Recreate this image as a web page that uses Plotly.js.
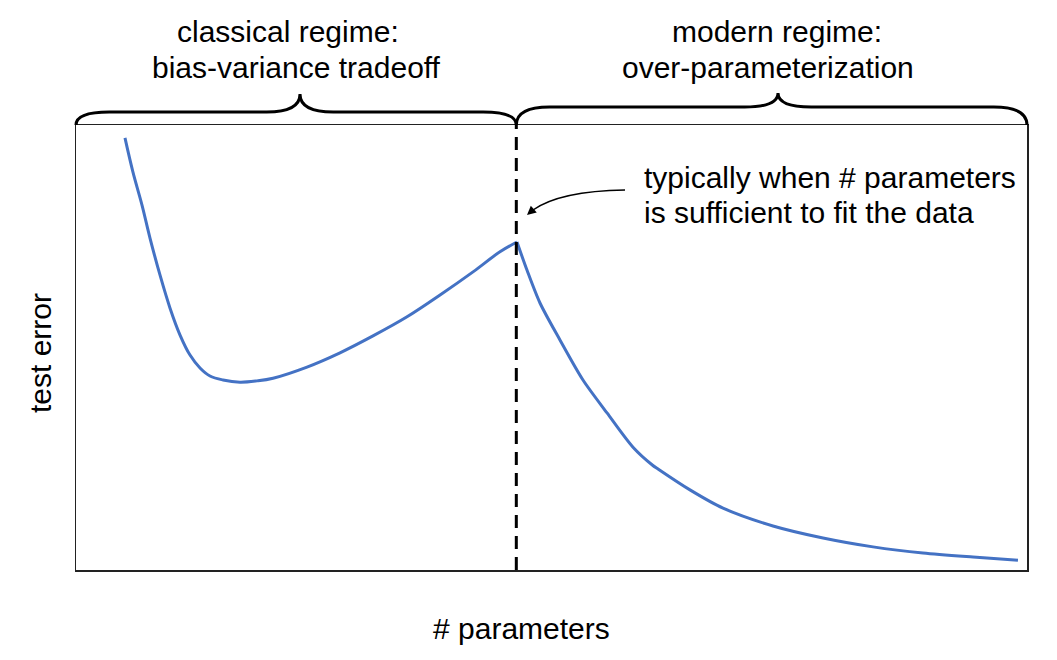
<!DOCTYPE html>
<html>
<head>
<meta charset="utf-8">
<script src="https://cdn.plot.ly/plotly-3.0.1.min.js"></script>
<style>html,body{margin:0;padding:0;background:#fff;}#chart{width:1057px;height:660px;}</style>
</head>
<body>
<div id="chart"></div>
<script>
// Classical regime (under-parameterized): U-shaped test error
const xClassical = [5.15, 5.99, 6.94, 7.78, 8.83, 9.88, 10.94, 11.99, 13.04, 14.09, 15.46, 17.24, 19.04, 20.72, 24.29, 27.76, 31.23, 34.81, 38.28, 41.75, 44.58, 46.37];
const yClassical = [97.1, 89.4, 82.0, 74.6, 66.3, 58.9, 52.8, 48.3, 45.4, 43.6, 42.7, 42.2, 42.5, 43.1, 45.6, 48.8, 52.6, 56.9, 61.8, 67.0, 71.5, 73.7];
// Modern regime (over-parameterized): decreasing test error
const xModern = [46.37, 47.42, 48.79, 50.89, 53.31, 55.84, 58.57, 60.6, 61.2, 64.56, 68.03, 73.29, 78.55, 83.81, 89.06, 94.32, 99.05];
const yModern = [73.7, 67.4, 60.0, 51.7, 42.7, 35.3, 27.6, 23.6, 22.7, 18.0, 13.9, 9.9, 7.2, 5.2, 3.8, 2.9, 2.2];
const threshold = 46.3;   // interpolation threshold
const xRange = [0, 100];
const yRange = [0, 100];

const labels = {
  classicalTop: "classical regime:",
  classicalBottom: "bias-variance tradeoff",
  modernTop: "modern regime:",
  modernBottom: "over-parameterization",
  note1: "typically when # parameters",
  note2: "is sufficient to fit the data",
  xTitle: "# parameters",
  yTitle: "test error"
};

const W = 1057, H = 660;
const M = {l: 76, r: 30, t: 125, b: 90};
const plotW = W - M.l - M.r, plotH = H - M.t - M.b;
// helpers converting page pixels to paper coordinates (layout only)
const px = p => (p - M.l) / plotW;
const py = p => (H - M.b - p) / plotH;

const FONT = "Liberation Sans, Arial, Helvetica, sans-serif";
const BLUE = "#4472C4";
const FS = 30;

function brace(x0, x1, xTip, yLine, yTip) {
  const d = 0.035, d2 = 0.035;
  const y0 = 1.0;
  return `M ${x0},${y0} Q ${x0},${yLine} ${x0 + d},${yLine} L ${xTip - d2},${yLine} ` +
         `Q ${xTip},${yLine} ${xTip},${yTip} Q ${xTip},${yLine} ${xTip + d2},${yLine} ` +
         `L ${x1 - d},${yLine} Q ${x1},${yLine} ${x1},${y0}`;
}

const tx = threshold / (xRange[1] - xRange[0]);

const traces = [
  {x: xClassical, y: yClassical, mode: "lines", line: {color: BLUE, width: 3, shape: "spline", smoothing: 1}, hoverinfo: "skip", showlegend: false},
  {x: xModern, y: yModern, mode: "lines", line: {color: BLUE, width: 3, shape: "spline", smoothing: 0.8}, hoverinfo: "skip", showlegend: false}
];

const shapes = [
  {type: "line", xref: "x", yref: "paper", x0: threshold, x1: threshold, y0: 0, y1: 1,
   line: {color: "#000", width: 3, dash: "13px,8px"}, layer: "above"},
  {type: "path", xref: "paper", yref: "paper", path: brace(0, tx, px(300), py(112), py(94)),
   line: {color: "#000", width: 3}},
  {type: "path", xref: "paper", yref: "paper", path: brace(tx, 1, px(778), py(107), py(93)),
   line: {color: "#000", width: 3}},
  {type: "path", xref: "paper", yref: "paper",
   path: `M ${px(625)},${py(190)} Q ${px(560)},${py(191)} ${px(533)},${py(210)}`,
   line: {color: "#000", width: 1.5}}
];

const annFont = {family: FONT, size: FS, color: "#000"};
function txt(text, x, y, xanchor, angle) {
  return {xref: "paper", yref: "paper", x: px(x), y: py(y), text: text, showarrow: false,
          font: annFont, xanchor: xanchor || "center", yanchor: "middle", textangle: angle || 0};
}
const annotations = [
  txt(labels.classicalTop, 288, 32),
  txt(labels.classicalBottom, 296, 67),
  txt(labels.modernTop, 777, 32),
  txt(labels.modernBottom, 768, 67),
  txt(labels.note1, 642, 177, "left"),
  txt(labels.note2, 642, 212, "left"),
  txt(labels.xTitle, 521, 628),
  txt(labels.yTitle, 40, 353, "center", -90),
  {xref: "paper", yref: "paper", x: px(527), y: py(215), ax: 8, ay: -7, axref: "pixel", ayref: "pixel",
   text: "", showarrow: true, arrowhead: 2, arrowsize: 1.2, arrowwidth: 1.5, arrowcolor: "#000", standoff: 0}
];

const layout = {
  width: W, height: H,
  margin: M,
  paper_bgcolor: "#fff", plot_bgcolor: "#fff",
  font: {family: FONT, size: FS, color: "#000"},
  showlegend: false,
  xaxis: {range: xRange, showgrid: false, zeroline: false, showticklabels: false, ticks: "",
          showline: true, mirror: true, linecolor: "#222", linewidth: 1.5},
  yaxis: {range: yRange, showgrid: false, zeroline: false, showticklabels: false, ticks: "",
          showline: true, mirror: true, linecolor: "#222", linewidth: 1.5},
  shapes: shapes,
  annotations: annotations
};

Plotly.newPlot("chart", traces, layout, {staticPlot: true, displayModeBar: false});
</script>
</body>
</html>
